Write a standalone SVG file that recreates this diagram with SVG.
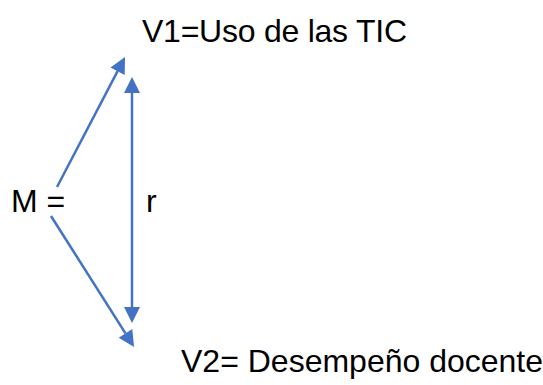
<svg xmlns="http://www.w3.org/2000/svg" width="543" height="385" viewBox="0 0 543 385">
<style>
text{font-family:"Liberation Sans",Arial,sans-serif;font-size:32px;fill:#000}
.c{stroke:#4472C4;stroke-width:2.5;fill:none}
</style>
<defs>
<marker id="ah" markerUnits="userSpaceOnUse" markerWidth="16" markerHeight="16" refX="0" refY="8" orient="auto-start-reverse" overflow="visible">
<path d="M0,0 L16,8 L0,16 z" fill="#4472C4"/>
</marker>
</defs>
<rect width="543" height="385" fill="#fff"/>
<g id="connectors">
<line class="c" x1="57" y1="187" x2="117.6" y2="71.2" marker-end="url(#ah)"/>
<line class="c" x1="132" y1="93" x2="132" y2="307" marker-start="url(#ah)" marker-end="url(#ah)"/>
<line class="c" x1="51" y1="216" x2="125.5" y2="333.4" marker-end="url(#ah)"/>
</g>
<g id="v1"><text x="142" y="42" textLength="265" lengthAdjust="spacing">V1=Uso de las TIC</text></g>
<g id="m"><text x="11" y="212">M =</text></g>
<g id="r"><text x="146" y="212">r</text></g>
<g id="v2"><text x="181" y="372">V2= Desempeño docente</text></g>
</svg>
